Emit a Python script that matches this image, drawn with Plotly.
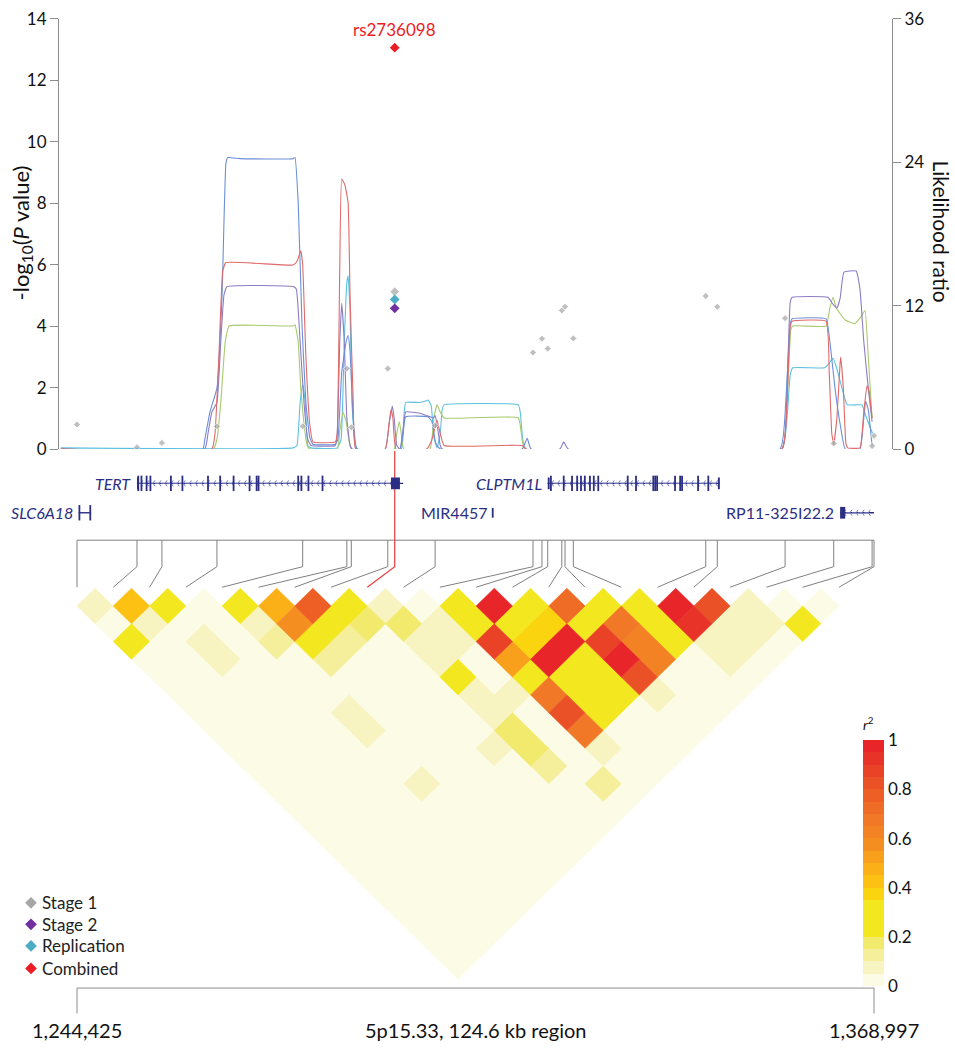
import numpy as np
import plotly.graph_objects as go

# ---------------- data ----------------
REGION_START = 1244425
REGION_END = 1368997
REGION_LABEL = "5p15.33, 124.6 kb region"

# SNP positions (kb) and Stage 1 association (-log10 P)
SNP_KB = [1244.425, 1253.8, 1257.7, 1266.3, 1279.7, 1286.6, 1287.3, 1293.0, 1294.086, 1300.4,
          1315.7, 1317.1, 1318.0, 1320.2, 1320.7, 1322.0, 1342.7, 1344.5, 1355.1, 1362.7,
          1368.7, 1368.997]
STAGE1_LOGP = [0.80, 0.06, 0.20, 0.74, 0.74, 2.62, 0.71, 2.62, 5.12, 0.77,
               3.14, 3.59, 3.27, 4.51, 4.63, 3.60, 4.98, 4.63, 4.26, 0.18,
               0.10, 0.43]
LEAD_IDX = 8
LEAD_NAME = "rs2736098"
LEAD_STAGE2 = 4.58
LEAD_REPLICATION = 4.87
LEAD_COMBINED = 13.06

# likelihood ratio curves (kb, LR)
LR_BLUE_X = [1241.9, 1264.1, 1264.4, 1265.2, 1266.3, 1267.1, 1267.7, 1268.0, 1269.9, 1278.2,
             1278.5, 1279.0, 1279.6, 1280.2, 1280.8, 1281.3, 1284.8, 1285.2, 1285.8, 1286.5,
             1286.8, 1287.1, 1287.6, 1288.2, 1294.9, 1295.4, 1295.8, 1299.3, 1299.9, 1300.5,
             1301.2, 1314.0, 1314.8, 1315.4, 1354.3, 1355.2, 1355.9, 1356.2, 1361.5, 1362.1,
             1362.9, 1363.7, 1364.5, 1366.8, 1367.4, 1367.7, 1368.1, 1368.7]
LR_BLUE_Y = [0, 0, 0.8, 3.1, 5.1, 12.9, 23.9, 24.4, 24.3, 24.3,
             24.4, 20.6, 10.3, 3.9, 1.0, 0.4, 0.4, 0.8, 6.4, 9.0,
             9.5, 8.2, 2.6, 0, 0, 1.3, 2.7, 2.7, 2.3, 0.5,
             0, 0, 0.9, 0, 0, 3.9, 10.5, 10.9, 10.9, 9.0,
             5.1, 2.1, 0, 0, 2.6, 4.0, 3.3, 0.3]

LR_RED_X = [1241.9, 1265.5, 1266.0, 1266.6, 1267.2, 1267.7, 1278.2, 1278.8, 1279.4, 1279.7,
            1280.2, 1280.8, 1281.3, 1284.8, 1285.1, 1285.5, 1285.8, 1286.3, 1286.8, 1287.1,
            1287.6, 1288.0, 1292.6, 1293.2, 1293.5, 1293.8, 1294.3, 1299.1, 1299.9, 1300.7,
            1301.2, 1301.8, 1314.0, 1314.6, 1354.6, 1355.4, 1355.9, 1356.2, 1361.5, 1362.0,
            1362.4, 1362.7, 1363.2, 1363.7, 1363.8, 1364.2, 1364.6, 1364.9, 1366.8, 1367.4,
            1367.9, 1368.2, 1368.7]
LR_RED_Y = [0, 0, 1.3, 7.7, 14.9, 15.6, 15.4, 15.7, 16.6, 15.4,
            7.7, 2.1, 0.6, 0.6, 1.3, 15.4, 22.6, 22.1, 20.6, 12.9,
            3.9, 0, 0, 2.1, 3.3, 2.6, 0, 0, 0.8, 2.4,
            1.3, 0.3, 0.3, 0, 0, 3.9, 10.3, 10.7, 10.7, 6.4,
            1.3, 0.4, 2.6, 7.2, 7.7, 5.1, 0.5, 0.1, 0.1, 3.1,
            5.3, 4.9, 2.6]

LR_PURPLE_X = [1241.9, 1264.4, 1264.9, 1265.5, 1266.3, 1266.9, 1267.4, 1267.9, 1278.2, 1278.7,
               1279.3, 1279.9, 1280.5, 1281.0, 1284.8, 1285.1, 1285.5, 1285.8, 1286.2, 1286.6,
               1287.1, 1287.4, 1292.6, 1293.2, 1293.7, 1294.0, 1294.4, 1294.9, 1295.5, 1295.8,
               1298.0, 1299.6, 1300.1, 1300.4, 1300.7, 1301.2, 1301.5, 1319.9, 1320.5, 1321.2,
               1354.6, 1355.4, 1355.9, 1356.2, 1361.8, 1362.6, 1363.2, 1363.7, 1364.3, 1366.2,
               1366.8, 1367.4, 1368.1, 1368.7]
LR_PURPLE_Y = [0, 0, 1.3, 3.1, 3.9, 9.0, 12.9, 13.6, 13.6, 13.4,
               9.0, 3.9, 0.8, 0.3, 0.3, 1.3, 9.0, 12.2, 9.0, 2.6,
               0.3, 0, 0, 2.1, 3.6, 2.6, 0.3, 0, 2.1, 3.1,
               3.0, 2.7, 2.6, 2.8, 2.1, 0.3, 0, 0, 0.6, 0,
               0, 5.1, 12.3, 12.7, 12.7, 12.1, 11.8, 12.6, 14.8, 14.9,
               13.4, 9.0, 5.1, 2.3]

LR_GREEN_X = [1241.9, 1265.7, 1266.3, 1266.9, 1267.6, 1268.2, 1278.2, 1278.5, 1279.0, 1279.4,
              1279.9, 1280.4, 1280.8, 1285.1, 1285.5, 1286.0, 1286.5, 1286.9, 1287.4, 1294.0,
              1294.4, 1294.8, 1295.1, 1295.5, 1299.6, 1300.2, 1300.7, 1301.2, 1301.8, 1313.4,
              1314.0, 1314.4, 1354.6, 1355.4, 1356.0, 1356.3, 1361.5, 1362.1, 1362.6, 1363.1,
              1364.5, 1366.0, 1367.0, 1367.6, 1368.1, 1368.7]
LR_GREEN_Y = [0, 0, 0.8, 3.9, 9.0, 10.3, 10.3, 10.4, 9.0, 5.1,
              2.1, 0.3, 0, 0, 1.5, 3.1, 2.3, 0.8, 0, 0,
              1.3, 2.3, 1.3, 0, 0, 2.6, 3.7, 3.1, 2.6, 2.6,
              0.8, 0, 0, 3.9, 10.0, 10.3, 10.3, 11.8, 12.7, 11.8,
              10.8, 10.5, 11.1, 11.6, 7.7, 2.6]

LR_CYAN_X = [1241.9, 1278.2, 1278.8, 1279.3, 1279.7, 1280.1, 1280.5, 1281.0, 1285.1, 1285.7,
             1286.2, 1286.6, 1286.8, 1287.1, 1287.4, 1287.9, 1288.3, 1295.1, 1295.5, 1295.8,
             1298.0, 1298.8, 1299.3, 1299.8, 1300.2, 1300.7, 1301.2, 1301.5, 1301.8, 1313.4,
             1313.7, 1314.1, 1314.6, 1354.6, 1355.4, 1355.9, 1356.3, 1361.3, 1362.0, 1362.6,
             1363.2, 1364.0, 1364.8, 1367.1, 1367.7, 1368.4, 1368.8]
LR_CYAN_Y = [0.1, 0.1, 0.3, 3.9, 5.4, 3.9, 0.3, 0.1, 0.1, 0.8,
             9.0, 13.9, 14.5, 11.6, 3.9, 0.3, 0, 0, 2.6, 3.9,
             3.9, 4.0, 4.1, 3.6, 1.0, 0.1, 1.3, 3.3, 3.7, 3.7,
             3.1, 0.8, 0, 0, 2.6, 6.2, 6.8, 6.8, 7.2, 7.6,
             6.7, 5.1, 3.7, 3.7, 2.8, 1.8, 1.3]

# genes (kb)
GENE_NAMES = ["TERT", "SLC6A18", "MIR4457", "CLPTM1L", "RP11-325I22.2"]
GENE_ITALIC = [True, True, False, True, False]
GENE_START = [1253.8, 1244.7, 1309.4, 1318.0, 1363.7]
GENE_END = [1295.4, 1246.6, 1309.4, 1344.9, 1369.0]
GENE_ROW = [0, 1, 1, 0, 1]
GENE_EXONS = [
    [1254.0, 1254.5, 1255.3, 1255.9, 1259.1, 1260.9, 1264.9, 1266.8, 1268.9, 1271.4,
     1272.5, 1272.8, 1279.0, 1279.5, 1280.6, 1282.8],
    [1244.8, 1246.5],
    [1309.4],
    [1318.5, 1320.5, 1321.8, 1322.6, 1323.2, 1323.8, 1324.6, 1325.2, 1325.9, 1330.5,
     1331.8, 1334.5, 1334.8, 1335.1, 1337.9, 1338.7, 1339.0, 1341.5, 1343.1],
    [],
]
GENE_BLOCKS = [
    [(1253.8, 1254.1), (1293.5, 1294.9)],
    [],
    [],
    [(1318.0, 1318.3), (1344.6, 1344.9)],
    [(1363.7, 1364.5)],
]
GENE_ARROWS = [True, False, False, True, True]

# pairwise LD r^2, upper triangle, row i holds pairs (i, i+1 .. 21)
LD_R2 = [
    [0.08, 0.04, 0.22] + [0.02] * 18,
    [0.42, 0.08] + [0.02] * 18,
    [0.28, 0.02, 0.08, 0.08] + [0.02] * 15,
    [0.02] * 18,
    [0.28, 0.08, 0.12, 0.02, 0.02, 0.02, 0.08, 0.08, 0.02, 0.02, 0.08] + [0.02] * 6,
    [0.48, 0.58, 0.24, 0.13] + [0.02] * 12,
    [0.78, 0.28, 0.14] + [0.02] * 12,
    [0.30, 0.18] + [0.02] * 6 + [0.08] + [0.02] * 5,
    [0.08, 0.19, 0.08, 0.08, 0.27, 0.09, 0.08, 0.17, 0.17, 0.12, 0.02, 0.02, 0.02],
    [0.03, 0.08, 0.08, 0.02, 0.02, 0.08, 0.02, 0.02, 0.02, 0.02, 0.13, 0.02],
    [0.28, 0.27, 0.87, 0.52, 0.28, 0.70, 0.82, 0.66, 0.07, 0.02, 0.02],
    [0.97, 0.30, 0.37, 0.97, 0.28, 0.28, 0.28, 0.02, 0.02, 0.02],
    [0.28, 0.37, 0.97, 0.28, 0.28, 0.28, 0.02, 0.02, 0.02],
    [0.72, 0.28, 0.88, 0.97, 0.82, 0.08, 0.02, 0.02],
    [0.28, 0.70, 0.62, 0.64, 0.02, 0.02, 0.02],
    [0.28, 0.28, 0.28, 0.02, 0.02, 0.02],
    [0.96, 0.92, 0.08, 0.08, 0.02],
    [0.82, 0.08, 0.08, 0.02],
    [0.08, 0.08, 0.02],
    [0.03, 0.20],
    [0.03],
]

R2_BIN_COLORS = ["#fcfbe6", "#f8f4c2", "#f5ef9c", "#f2ea6c", "#f3e81f", "#f3e81f", "#f3e81f",
                 "#fbd410", "#fcc112", "#fbb017", "#f8a01c", "#f58e21", "#f38224", "#f17826",
                 "#ef6c26", "#ed5f25", "#eb5126", "#e94227", "#e83428", "#e8262a"]

# ---------------- styling / layout ----------------
W, H = 955, 1050
FONT = "Lato, Open Sans, sans-serif"
AXIS_GREY = "#8c8c8c"
NAVY = "#2b2e83"
ARROW = "#7a7ec0"
GREY_PT = "#a6a6a6"
PURPLE_PT = "#7030a0"
CYAN_PT = "#4bacc6"
RED_PT = "#ec1c24"

AX_L, AX_R = 59, 892          # pixel x of the two y axes
TOP_Y0, TOP_Y1 = 447, 8       # pixel y of 0 and top of the association panel
SNP0_PX, SNPN_PX = 77, 874
px_per_kb = (SNPN_PX - SNP0_PX) / ((REGION_END - REGION_START) / 1000)


def kb_at(px):
    return SNP_KB[0] + (px - SNP0_PX) / px_per_kb


x_range = [kb_at(AX_L), kb_at(AX_R)]

fig = go.Figure()

# likelihood ratio curves (right axis)
for cx, cy, col in [(LR_CYAN_X, LR_CYAN_Y, "#5cc0e0"), (LR_GREEN_X, LR_GREEN_Y, "#a8c96e"),
                    (LR_PURPLE_X, LR_PURPLE_Y, "#8d7cc4"), (LR_BLUE_X, LR_BLUE_Y, "#6a8fd8"),
                    (LR_RED_X, LR_RED_Y, "#e06a6a")]:
    fig.add_trace(go.Scatter(x=cx, y=cy, mode="lines", xaxis="x", yaxis="y",
                             line=dict(color=col, width=1.1, shape="spline", smoothing=0.35),
                             showlegend=False, hoverinfo="skip"))

# association points (left axis)
sizes = [7.5 if i == LEAD_IDX else 5.5 for i in range(len(SNP_KB))]
fig.add_trace(go.Scatter(x=SNP_KB, y=STAGE1_LOGP, mode="markers", xaxis="x", yaxis="y2",
                         marker=dict(symbol="diamond", size=sizes, color=GREY_PT),
                         showlegend=False))
lead_x = SNP_KB[LEAD_IDX]
fig.add_trace(go.Scatter(x=[lead_x] * 3, y=[LEAD_REPLICATION, LEAD_STAGE2, LEAD_COMBINED],
                         mode="markers", xaxis="x", yaxis="y2",
                         marker=dict(symbol="diamond", size=7.5,
                                     color=[CYAN_PT, PURPLE_PT, RED_PT]),
                         showlegend=False))

# ---- gene track (x in kb, y in pixel rows) ----
ROW_Y = [482, 512]
shapes = []
annotations = []
for g, name in enumerate(GENE_NAMES):
    y = ROW_Y[GENE_ROW[g]]
    s, e = GENE_START[g], GENE_END[g]
    if e > s:
        fig.add_trace(go.Scatter(x=[s, e], y=[y, y], mode="lines", xaxis="x", yaxis="y3",
                                 line=dict(color=NAVY, width=1.4), showlegend=False,
                                 hoverinfo="skip"))
    if GENE_ARROWS[g]:
        ax = np.arange(s + 0.6, e - 0.3, 0.95)
        fig.add_trace(go.Scatter(x=ax, y=[y] * len(ax), mode="markers", xaxis="x", yaxis="y3",
                                 marker=dict(symbol="y-left", size=5,
                                             line=dict(color=ARROW, width=1)),
                                 showlegend=False, hoverinfo="skip"))
    if GENE_EXONS[g]:
        ex = GENE_EXONS[g]
        h = 7 if name == "MIR4457" else 11
        fig.add_trace(go.Scatter(x=ex, y=[y] * len(ex), mode="markers", xaxis="x", yaxis="y3",
                                 marker=dict(symbol="line-ns", size=h,
                                             line=dict(color=NAVY, width=1.8)),
                                 showlegend=False, hoverinfo="skip"))
    for b0, b1 in GENE_BLOCKS[g]:
        shapes.append(dict(type="rect", xref="x", yref="y3", x0=b0, x1=b1,
                           y0=y - 6, y1=y + 6, fillcolor=NAVY, line=dict(width=0)))
    label = f"<i>{name}</i>" if GENE_ITALIC[g] else name
    annotations.append(dict(x=s, y=y, xref="x", yref="y3", text=label, showarrow=False,
                            xanchor="right", yanchor="middle", xshift=-4,
                            font=dict(family=FONT, size=16, color=NAVY)))

# ---- LD triangle ----
N = len(SNP_KB)
LD_TOP = 589
LD_LEFT_PX, LD_RIGHT_PX = 77, 839
step_px = (LD_RIGHT_PX - LD_LEFT_PX) / (N - 1)
half = step_px / 2


def ld_kb(pos):
    return kb_at(LD_LEFT_PX + pos * step_px)


bins = {}
for i, row in enumerate(LD_R2):
    for k, r2 in enumerate(row):
        j = i + 1 + k
        c = (i + j) / 2
        cy = LD_TOP + (j - i) * half
        b = min(int(r2 / 0.05), 19)
        xs, ys = bins.setdefault(b, ([], []))
        xs += [ld_kb(c - 0.5), ld_kb(c), ld_kb(c + 0.5), ld_kb(c), ld_kb(c - 0.5), None]
        ys += [cy, cy - half, cy, cy + half, cy, None]
for b, (xs, ys) in sorted(bins.items()):
    col = R2_BIN_COLORS[b]
    fig.add_trace(go.Scatter(x=xs, y=ys, mode="lines", fill="toself", fillcolor=col,
                             line=dict(color=col, width=0.6), xaxis="x", yaxis="y3",
                             showlegend=False, hoverinfo="skip"))

# connectors from SNP positions to LD columns
CONN_TOP, CONN_BEND, CONN_BOT = 540, 567, 588
cx, cy = [], []
for i in range(N):
    if i == LEAD_IDX:
        continue
    cx += [SNP_KB[i], SNP_KB[i], ld_kb(i), None]
    cy += [CONN_TOP, CONN_BEND, CONN_BOT, None]
cx += [SNP_KB[0], SNP_KB[-1]]
cy += [CONN_TOP, CONN_TOP]
fig.add_trace(go.Scatter(x=cx, y=cy, mode="lines", xaxis="x", yaxis="y3",
                         line=dict(color="#808080", width=1), showlegend=False,
                         hoverinfo="skip"))
fig.add_trace(go.Scatter(x=[lead_x, lead_x, ld_kb(LEAD_IDX)], y=[449, CONN_BEND, CONN_BOT],
                         mode="lines", xaxis="x", yaxis="y3",
                         line=dict(color="#ee3b3b", width=1.2), showlegend=False,
                         hoverinfo="skip"))

# ---- r^2 colour bar ----
cscale = []
for b, col in enumerate(R2_BIN_COLORS):
    cscale += [[b / 20, col], [(b + 1) / 20, col]]
fig.add_trace(go.Scatter(x=[-10], y=[-10], mode="markers", xaxis="x2", yaxis="y3",
                         marker=dict(size=1, color=[0], cmin=0, cmax=1, colorscale=cscale,
                                     opacity=0, showscale=True,
                                     colorbar=dict(x=863 / W, xanchor="left", xpad=0,
                                                   y=1 - 857.5 / H, yanchor="middle",
                                                   len=275 / H, lenmode="fraction",
                                                   ypad=0, thickness=21, outlinewidth=0,
                                                   tickvals=[0, 0.2, 0.4, 0.6, 0.8, 1],
                                                   ticktext=["0", "0.2", "0.4", "0.6", "0.8", "1"],
                                                   ticks="", tickfont=dict(family=FONT, size=17,
                                                                           color="#111"),
                                                   title=dict(text="<i>r</i><sup>2</sup>",
                                                              side="top",
                                                              font=dict(family=FONT, size=14,
                                                                        color="#111")))),
                         showlegend=False, hoverinfo="skip"))

# ---- legend (drawn by hand) ----
LEG_NAMES = ["Stage 1", "Stage 2", "Replication", "Combined"]
LEG_COLORS = [GREY_PT, PURPLE_PT, CYAN_PT, RED_PT]
leg_y = [910, 932, 954, 977]
fig.add_trace(go.Scatter(x=[31] * 4, y=leg_y, mode="markers", xaxis="x2", yaxis="y3",
                         marker=dict(symbol="diamond", size=9, color=LEG_COLORS),
                         showlegend=False, hoverinfo="skip"))
for name, yy in zip(LEG_NAMES, leg_y):
    annotations.append(dict(x=40, y=yy, xref="x2", yref="y3", text=name, showarrow=False,
                            xanchor="left", yanchor="middle",
                            font=dict(family=FONT, size=17, color="#222")))

# ---- region axis at the bottom ----
x0, x1 = SNP_KB[0], SNP_KB[-1]
for seg in [(x0, 997, x1, 997), (x0, 997, x0, 1023), (x1, 997, x1, 1023)]:
    shapes.append(dict(type="line", xref="x", yref="y3", x0=seg[0], y0=seg[1],
                       x1=seg[2], y1=seg[3], line=dict(color=AXIS_GREY, width=1)))
for xx, txt in [(x0, f"{REGION_START:,}"), ((x0 + x1) / 2, REGION_LABEL),
                (x1, f"{REGION_END:,}")]:
    annotations.append(dict(x=xx, y=1040, xref="x", yref="y3", text=txt, showarrow=False,
                            xanchor="center", yanchor="middle",
                            font=dict(family=FONT, size=20, color="#111")))

# ---- association panel texts ----
annotations.append(dict(x=lead_x, y=LEAD_COMBINED, xref="x", yref="y2", text=LEAD_NAME,
                        showarrow=False, yshift=18, xanchor="center",
                        font=dict(family=FONT, size=17, color=RED_PT)))
annotations.append(dict(x=22, y=227, xref="x2", yref="y3",
                        text="-log<sub>10</sub>(<i>P</i> value)", textangle=-90,
                        showarrow=False, font=dict(family=FONT, size=22, color="#111")))
annotations.append(dict(x=941, y=225, xref="x2", yref="y3", text="Likelihood ratio",
                        textangle=90, showarrow=False,
                        font=dict(family=FONT, size=21, color="#111")))

top_dom = [1 - TOP_Y0 / H, 1 - TOP_Y1 / H]
fig.update_layout(
    width=W, height=H,
    margin=dict(l=0, r=0, t=0, b=0),
    paper_bgcolor="white", plot_bgcolor="rgba(0,0,0,0)",
    showlegend=False,
    font=dict(family=FONT, color="#111"),
    xaxis=dict(domain=[AX_L / W, AX_R / W], range=x_range, visible=False, anchor="y"),
    yaxis=dict(domain=top_dom, range=[0, 36], side="right", anchor="x",
               tickvals=[0, 12, 24, 36], ticks="outside", ticklen=8, tickcolor=AXIS_GREY,
               showline=True, linecolor=AXIS_GREY, linewidth=1, showgrid=False,
               zeroline=False, ticklabeloverflow="allow",
               tickfont=dict(family=FONT, size=17, color="#111")),
    yaxis2=dict(overlaying="y", range=[0, 14], side="left", anchor="x",
                tickvals=list(range(0, 15, 2)), ticks="outside", ticklen=8,
                tickcolor=AXIS_GREY, showline=True, linecolor=AXIS_GREY, linewidth=1,
                showgrid=False, zeroline=False, ticklabeloverflow="allow",
                tickfont=dict(family=FONT, size=17, color="#111")),
    yaxis3=dict(domain=[0, 1], range=[H, 0], visible=False, anchor="x2"),
    xaxis2=dict(domain=[0, 1], range=[0, W], visible=False, anchor="y3"),
    shapes=shapes,
    annotations=annotations,
)

fig.write_html("out.html", config={"displayModeBar": False},
               post_script="document.body.style.margin='0px';")
